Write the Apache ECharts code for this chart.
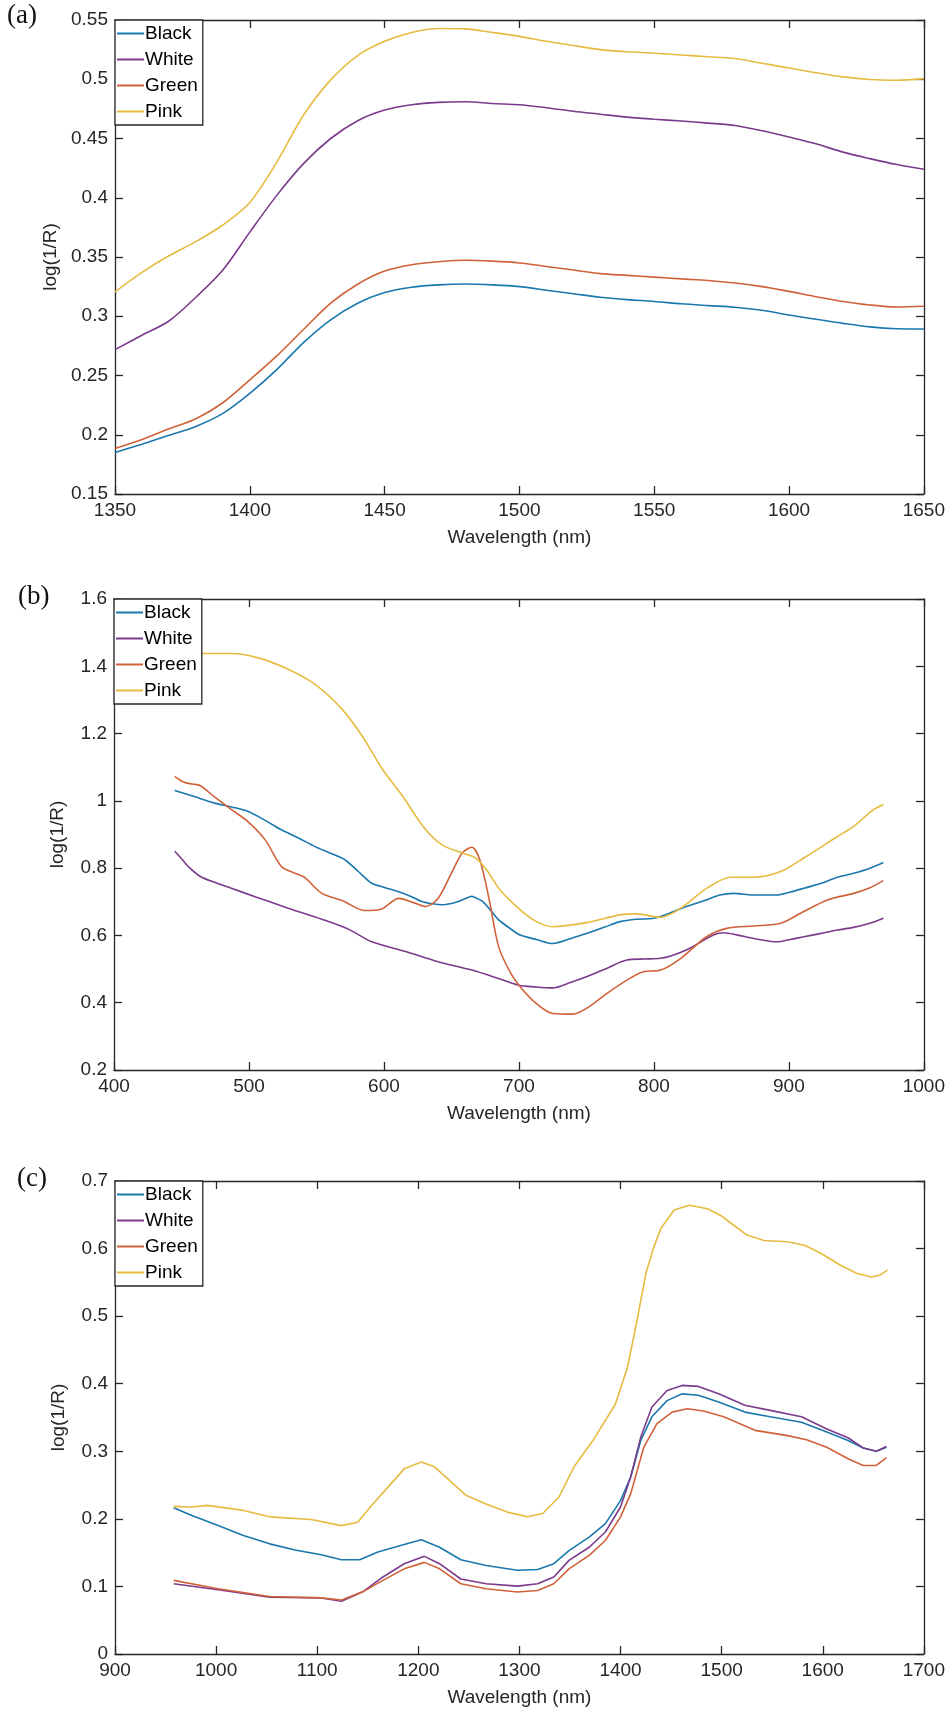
<!DOCTYPE html>
<html>
<head>
<meta charset="utf-8">
<script src="https://cdn.jsdelivr.net/npm/echarts@6/dist/echarts.min.js"></script>
<style>
  html, body { margin: 0; padding: 0; background: #fff; }
  #chart { width: 948px; height: 1715px; }
</style>
</head>
<body>
<div id="chart"></div>
<script>
// 图例名称
const names = ['Black', 'White', 'Green', 'Pink']
const colors = ['#1a78ad', '#7b3a8c', '#d0623a', '#e6bb3f']

// (a) 1350-1650 nm
const aWavelength = [1350, 1360, 1370, 1380, 1390, 1400, 1410, 1420, 1430, 1440, 1450, 1460, 1470, 1480, 1490, 1500,
    1510, 1520, 1530, 1540, 1550, 1560, 1570, 1580, 1590, 1600, 1610, 1620, 1630, 1640, 1650]
const aBlack = [0.185, 0.192, 0.1995, 0.207, 0.218, 0.235, 0.255, 0.278, 0.297, 0.311, 0.320, 0.3245, 0.3265, 0.3272, 0.3265, 0.325,
    0.322, 0.319, 0.316, 0.314, 0.3125, 0.3105, 0.309, 0.3076, 0.305, 0.301, 0.2975, 0.294, 0.291, 0.2895, 0.2893]
const aWhite = [0.2718, 0.284, 0.296, 0.316, 0.339, 0.371, 0.402, 0.429, 0.450, 0.465, 0.474, 0.4785, 0.4805, 0.481, 0.4795, 0.4785,
    0.476, 0.473, 0.4705, 0.468, 0.4662, 0.4648, 0.463, 0.461, 0.4565, 0.4512, 0.4455, 0.4385, 0.433, 0.428, 0.424]
const aGreen = [0.1884, 0.196, 0.205, 0.2135, 0.227, 0.2463, 0.2665, 0.289, 0.311, 0.327, 0.3381, 0.3435, 0.346, 0.3472, 0.3465, 0.345,
    0.342, 0.339, 0.336, 0.3345, 0.333, 0.3315, 0.3302, 0.328, 0.325, 0.321, 0.3165, 0.3125, 0.3095, 0.3078, 0.3085]
const aPink = [0.3205, 0.337, 0.351, 0.363, 0.377, 0.396, 0.430, 0.470, 0.4995, 0.520, 0.532, 0.5395, 0.5428, 0.5425, 0.5395, 0.5362,
    0.532, 0.5285, 0.525, 0.5232, 0.522, 0.5205, 0.519, 0.5175, 0.5135, 0.5095, 0.5055, 0.502, 0.4998, 0.4992, 0.5005]

// (b) 400-1000 nm, [波长, log(1/R)]
const bBlack = [[445, 1.031], [460, 1.012], [474, 0.994], [487, 0.982], [499, 0.969], [512, 0.942], [524, 0.914], [537, 0.889],
    [549, 0.864], [560, 0.845], [571, 0.825], [581, 0.79], [591, 0.755], [601, 0.742], [611, 0.730], [620, 0.716], [628, 0.701],
    [636, 0.694], [643, 0.691], [650, 0.695], [655, 0.701], [660, 0.709], [665, 0.716], [669, 0.710], [673, 0.701], [679, 0.675],
    [685, 0.646], [693, 0.622], [701, 0.601], [713, 0.588], [725, 0.576], [738, 0.590], [750, 0.606], [763, 0.624], [775, 0.641],
    [787, 0.648], [800, 0.651], [812, 0.667], [824, 0.686], [837, 0.703], [849, 0.720], [859, 0.725], [874, 0.720], [891, 0.720],
    [901, 0.729], [911, 0.740], [924, 0.755], [936, 0.773], [948, 0.785], [960, 0.800], [970, 0.817]]
const bWhite = [[445, 0.850], [450, 0.828], [455, 0.805], [464, 0.775], [475, 0.757], [487, 0.740], [504, 0.716], [529, 0.681],
    [554, 0.648], [574, 0.618], [591, 0.581], [616, 0.552], [640, 0.522], [665, 0.497], [685, 0.472], [700, 0.452], [712, 0.447],
    [725, 0.444], [738, 0.460], [750, 0.477], [765, 0.502], [780, 0.527], [793, 0.530], [805, 0.532], [824, 0.557], [844, 0.601],
    [852, 0.608], [862, 0.601], [874, 0.591], [891, 0.581], [901, 0.588], [911, 0.596], [924, 0.606], [936, 0.616], [948, 0.624],
    [960, 0.636], [970, 0.651]]
const bGreen = [[445, 1.073], [452, 1.055], [458, 1.050], [464, 1.045], [474, 1.013], [487, 0.974], [499, 0.939], [512, 0.884],
    [524, 0.805], [534, 0.785], [541, 0.773], [554, 0.725], [569, 0.704], [586, 0.674], [598, 0.678], [611, 0.710], [623, 0.696],
    [631, 0.686], [640, 0.710], [650, 0.785], [658, 0.845], [665, 0.862], [671, 0.825], [678, 0.706], [685, 0.566], [694, 0.487],
    [701, 0.447], [713, 0.397], [725, 0.368], [740, 0.366], [750, 0.383], [765, 0.427], [780, 0.467], [792, 0.492], [805, 0.497],
    [820, 0.532], [839, 0.596], [854, 0.621], [874, 0.628], [894, 0.636], [911, 0.671], [929, 0.706], [948, 0.725], [960, 0.742],
    [970, 0.763]]
const bPink = [[445, 1.436], [464, 1.438], [487, 1.438], [507, 1.425], [529, 1.391], [549, 1.346], [569, 1.272], [584, 1.192],
    [599, 1.093], [614, 1.013], [629, 0.924], [643, 0.869], [658, 0.845], [668, 0.830], [676, 0.795], [686, 0.735], [701, 0.676],
    [713, 0.641], [725, 0.626], [750, 0.638], [775, 0.661], [787, 0.664], [805, 0.654], [820, 0.681], [839, 0.740], [857, 0.773],
    [874, 0.773], [894, 0.790], [911, 0.830], [936, 0.894], [948, 0.924], [961, 0.969], [970, 0.989]]

// (c) 900-1700 nm
const cBlack = [[958, 0.2165], [976, 0.205], [1002, 0.190], [1027, 0.1755], [1053, 0.163], [1078, 0.154], [1104, 0.147],
    [1124, 0.1395], [1142, 0.1395], [1160, 0.151], [1186, 0.162], [1203, 0.169], [1221, 0.158], [1242, 0.1395], [1267, 0.131],
    [1298, 0.124], [1318, 0.125], [1334, 0.1336], [1349, 0.153], [1369, 0.173], [1385, 0.193], [1400, 0.227], [1410, 0.262],
    [1420, 0.316], [1431, 0.351], [1446, 0.375], [1461, 0.385], [1477, 0.383], [1497, 0.373], [1523, 0.358], [1548, 0.351],
    [1579, 0.343], [1604, 0.3285], [1625, 0.316], [1640, 0.305], [1653, 0.300], [1663, 0.306]]
const cWhite = [[958, 0.104], [1002, 0.095], [1053, 0.084], [1104, 0.083], [1124, 0.078], [1145, 0.092], [1165, 0.114],
    [1186, 0.1336], [1206, 0.1445], [1221, 0.1336], [1242, 0.111], [1267, 0.104], [1298, 0.1005], [1318, 0.104], [1334, 0.114],
    [1349, 0.1385], [1369, 0.158], [1385, 0.1805], [1400, 0.2175], [1410, 0.262], [1420, 0.321], [1431, 0.3655], [1446, 0.390],
    [1461, 0.3975], [1477, 0.396], [1497, 0.385], [1523, 0.368], [1548, 0.3605], [1579, 0.351], [1604, 0.333], [1625, 0.320],
    [1640, 0.305], [1653, 0.300], [1663, 0.307]]
const cGreen = [[958, 0.109], [1002, 0.0966], [1053, 0.085], [1104, 0.083], [1124, 0.080], [1145, 0.092], [1165, 0.109],
    [1186, 0.126], [1206, 0.1356], [1221, 0.126], [1242, 0.104], [1267, 0.0966], [1298, 0.0917], [1318, 0.094], [1334, 0.104],
    [1349, 0.126], [1369, 0.146], [1385, 0.168], [1400, 0.203], [1410, 0.237], [1423, 0.306], [1436, 0.341], [1451, 0.358],
    [1466, 0.363], [1482, 0.3595], [1502, 0.351], [1533, 0.331], [1564, 0.3235], [1584, 0.317], [1604, 0.306], [1625, 0.289],
    [1640, 0.279], [1653, 0.279], [1663, 0.2905]]
const cPink = [[958, 0.2185], [976, 0.2175], [991, 0.220], [1027, 0.2125], [1053, 0.203], [1094, 0.199], [1124, 0.190],
    [1140, 0.195], [1155, 0.222], [1170, 0.247], [1186, 0.274], [1203, 0.284], [1216, 0.277], [1247, 0.235], [1267, 0.222],
    [1288, 0.210], [1308, 0.203], [1323, 0.208], [1339, 0.232], [1354, 0.277], [1374, 0.319], [1395, 0.370], [1407, 0.425],
    [1417, 0.499], [1425, 0.563], [1433, 0.6025], [1440, 0.630], [1453, 0.657], [1468, 0.664], [1486, 0.659], [1499, 0.649],
    [1512, 0.6345], [1525, 0.620], [1542, 0.612], [1565, 0.610], [1582, 0.605], [1598, 0.593], [1618, 0.575], [1634, 0.563],
    [1648, 0.558], [1657, 0.561], [1664, 0.568]]

// 坐标轴范围 [min, max, interval]
const xRanges = [[1350, 1650, 50], [400, 1000, 100], [900, 1700, 100]]
const yRanges = [[0.15, 0.55, 0.05], [0.2, 1.6, 0.2], [0, 0.7, 0.1]]
const panelLabels = ['(a)', '(b)', '(c)']

const FONT = '"Liberation Sans", Arial, sans-serif'
const INK = '#262626'

const grids = [
    { left: 115, top: 20, width: 809, height: 474 },
    { left: 114, top: 599, width: 810, height: 471 },
    { left: 115, top: 1181, width: 810, height: 473 }
]
const labelPos = [[7, 2], [18, 583], [17, 1165]]

const zipAxis = (xs, ys) => xs.map((x, i) => [x, ys[i]])
const panelData = [
    [zipAxis(aWavelength, aBlack), zipAxis(aWavelength, aWhite), zipAxis(aWavelength, aGreen), zipAxis(aWavelength, aPink)],
    [bBlack, bWhite, bGreen, bPink],
    [cBlack, cWhite, cGreen, cPink]
]

// 不要千分位
const plainNum = v => String(+(+v).toFixed(4))

function axisLine() {
    return { show: true, onZero: false, lineStyle: { color: INK, width: 1.3 } }
}
function axisTick() {
    return { inside: true, length: 8, lineStyle: { color: INK, width: 1.3 } }
}

const xAxis = [], yAxis = [], series = [], legend = [], graphic = []

grids.forEach((g, i) => {
    const [xmin, xmax, xstep] = xRanges[i]
    const [ymin, ymax, ystep] = yRanges[i]
    // 下方主轴 + 上方镜像轴
    xAxis.push({
        type: 'value', gridIndex: i, position: 'bottom', min: xmin, max: xmax, interval: xstep,
        name: 'Wavelength (nm)', nameLocation: 'middle', nameGap: 34,
        nameTextStyle: { fontFamily: FONT, fontSize: 19, color: INK },
        axisLine: axisLine(), splitLine: { show: false }, axisTick: axisTick(),
        axisLabel: { fontFamily: FONT, fontSize: 19, color: INK, margin: 7, formatter: plainNum }
    })
    xAxis.push({
        type: 'value', gridIndex: i, position: 'top', min: xmin, max: xmax, interval: xstep,
        axisLine: axisLine(), splitLine: { show: false }, axisTick: axisTick(),
        axisLabel: { show: false }
    })
    // 左侧主轴 + 右侧镜像轴
    yAxis.push({
        type: 'value', gridIndex: i, position: 'left', min: ymin, max: ymax, interval: ystep,
        name: 'log(1/R)', nameLocation: 'middle', nameGap: 47,
        nameTextStyle: { fontFamily: FONT, fontSize: 19, color: INK },
        axisLine: axisLine(), splitLine: { show: false }, axisTick: axisTick(),
        axisLabel: { fontFamily: FONT, fontSize: 19, color: INK, margin: 7, formatter: plainNum }
    })
    yAxis.push({
        type: 'value', gridIndex: i, position: 'right', min: ymin, max: ymax, interval: ystep,
        axisLine: axisLine(), splitLine: { show: false }, axisTick: axisTick(),
        axisLabel: { show: false }
    })

    names.forEach((name, k) => {
        series.push({
            name: name,
            type: 'line',
            xAxisIndex: i * 2,
            yAxisIndex: i * 2,
            data: panelData[i][k],
            symbol: 'none',
            smooth: i === 2 ? false : 0.3,
            lineStyle: { color: colors[k], width: 1.6 },
            itemStyle: { color: colors[k] },
            animation: false
        })
    })

    legend.push({
        data: names.map(n => ({ name: n, icon: 'rect' })),
        orient: 'vertical',
        left: g.left,
        top: g.top,
        itemWidth: 27,
        itemHeight: 2,
        itemGap: 5,
        padding: [3, 5, 3, 2],
        backgroundColor: '#fff',
        borderColor: INK,
        borderWidth: 1.3,
        borderRadius: 0,
        selectedMode: false,
        textStyle: { fontFamily: FONT, fontSize: 19, color: '#000', lineHeight: 21, padding: [0, 0, 0, -4] }
    })

    graphic.push({
        type: 'text',
        left: labelPos[i][0],
        top: labelPos[i][1],
        style: { text: panelLabels[i], font: '27px "Liberation Serif", "Times New Roman", serif', fill: '#111' }
    })
})

const chart = echarts.init(document.getElementById('chart'), null, { renderer: 'canvas' })
chart.setOption({
    backgroundColor: '#fff',
    animation: false,
    grid: grids,
    xAxis: xAxis,
    yAxis: yAxis,
    legend: legend,
    graphic: graphic,
    series: series
})
</script>
</body>
</html>
